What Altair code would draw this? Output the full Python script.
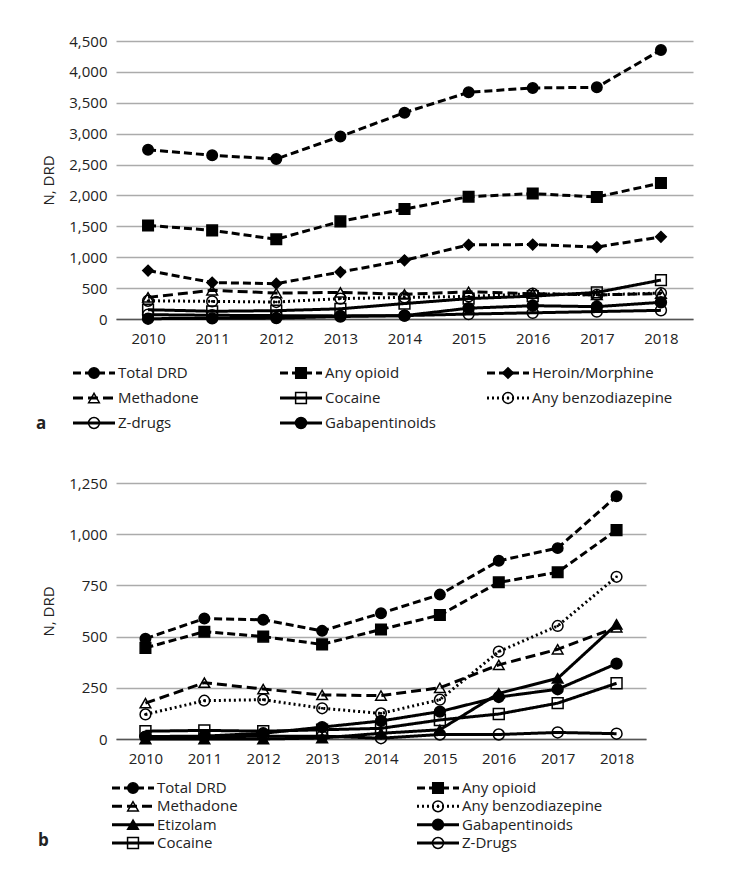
import altair as alt
import pandas as pd

years = [2010, 2011, 2012, 2013, 2014, 2015, 2016, 2017, 2018]

# ---------------- Panel a ----------------
a_series = ["Total DRD", "Any opioid", "Heroin/Morphine", "Methadone", "Cocaine",
            "Any benzodiazepine", "Z-drugs", "Gabapentinoids"]
a_total = [2740, 2650, 2590, 2955, 3340, 3670, 3740, 3750, 4355]
a_opioid = [1515, 1435, 1290, 1580, 1780, 1980, 2030, 1975, 2200]
a_heroin = [785, 590, 572, 760, 950, 1200, 1205, 1165, 1330]
a_methadone = [350, 465, 420, 430, 400, 440, 410, 390, 410]
a_cocaine = [150, 125, 135, 165, 250, 330, 370, 430, 630]
a_benzo = [295, 285, 275, 330, 350, 365, 410, 390, 420]
a_zdrugs = [70, 60, 55, 50, 55, 80, 100, 120, 140]
a_gaba = [5, 10, 15, 40, 55, 175, 215, 200, 270]
a_values = [a_total, a_opioid, a_heroin, a_methadone, a_cocaine, a_benzo, a_zdrugs, a_gaba]
a_yticks = [0, 500, 1000, 1500, 2000, 2500, 3000, 3500, 4000, 4500]
a_leg_col = [0, 1, 2, 0, 1, 2, 0, 1]
a_leg_row = [0, 0, 0, 1, 1, 1, 2, 2]

# ---------------- Panel b ----------------
b_series = ["Total DRD", "Any opioid", "Methadone", "Any benzodiazepine", "Etizolam",
            "Gabapentinoids", "Cocaine", "Z-Drugs"]
b_total = [490, 588, 582, 528, 614, 705, 870, 932, 1185]
b_opioid = [445, 524, 500, 462, 535, 605, 765, 814, 1020]
b_methadone = [175, 275, 244, 215, 212, 250, 362, 438, 545]
b_benzo = [120, 187, 192, 150, 125, 192, 427, 552, 792]
b_etizolam = [0, 0, 0, 5, 28, 45, 223, 296, 560]
b_gaba = [12, 14, 28, 58, 88, 134, 205, 243, 368]
b_cocaine = [38, 42, 38, 45, 52, 93, 122, 175, 272]
b_zdrugs = [10, 10, 14, 14, 4, 22, 22, 32, 26]
b_values = [b_total, b_opioid, b_methadone, b_benzo, b_etizolam, b_gaba, b_cocaine, b_zdrugs]
b_yticks = [0, 250, 500, 750, 1000, 1250]
b_leg_col = [0, 1, 0, 1, 0, 1, 0, 1]
b_leg_row = [0, 0, 1, 1, 2, 2, 3, 3]

# ---------------- Styles (per series name) ----------------
STYLE = {
    "Total DRD":          dict(dash=[8, 4], width=3.0, shape="circle", fill=1, size=110),
    "Any opioid":         dict(dash=[8, 4], width=3.0, shape="square", fill=1, size=120),
    "Heroin/Morphine":    dict(dash=[8, 4], width=3.0, shape="diamond", fill=1, size=70),
    "Methadone":          dict(dash=[10, 5], width=3.2, shape="triangle-up", fill=0, size=100),
    "Cocaine":            dict(dash=[1, 0], width=2.6, shape="square", fill=0, size=80),
    "Any benzodiazepine": dict(dash=[2, 3], width=2.6, shape="circle", fill=0, size=120),
    "Z-drugs":            dict(dash=[1, 0], width=2.6, shape="circle", fill=0, size=110),
    "Z-Drugs":            dict(dash=[1, 0], width=2.6, shape="circle", fill=0, size=120),
    "Gabapentinoids":     dict(dash=[1, 0], width=2.6, shape="circle", fill=1, size=120),
    "Etizolam":           dict(dash=[1, 0], width=2.6, shape="triangle-up", fill=1, size=110),
}
FONT = "Open Sans"
TXT = "#222222"


def long_df(series, values):
    rows = []
    for s, vals in zip(series, values):
        for y, v in zip(years, vals):
            rows.append({"year": y, "series": s, "value": v})
    return pd.DataFrame(rows)


def panel(series, values, leg_col, leg_row, yticks, ymax, width, height,
          leg_xrange, leg_yrange, letter, letter_x, letter_y):
    df = long_df(series, values)
    leg = pd.DataFrame({"series": series, "col": leg_col, "row": leg_row})
    sty = [STYLE[s] for s in series]
    dash_enc = alt.StrokeDash("series:N", scale=alt.Scale(domain=series, range=[d["dash"] for d in sty]), legend=None)
    sw_enc = alt.StrokeWidth("series:N", scale=alt.Scale(domain=series, range=[d["width"] for d in sty]), legend=None)
    shape_enc = alt.Shape("series:N", scale=alt.Scale(domain=series, range=[d["shape"] for d in sty]), legend=None)
    fill_enc = alt.Fill("series:N", scale=alt.Scale(domain=series,
                        range=["black" if d["fill"] else "transparent" for d in sty]), legend=None)
    size_enc = alt.Size("series:N", scale=alt.Scale(domain=series, range=[d["size"] for d in sty]), legend=None)

    x_enc = alt.X("year:O", scale=alt.Scale(padding=0.5),
                  axis=alt.Axis(title=None, labelAngle=0, labelPadding=12, ticks=False,
                                domainColor="#555555", domainWidth=1.6, grid=False))
    y_enc = alt.Y("value:Q", scale=alt.Scale(domain=[0, ymax], nice=False),
                  axis=alt.Axis(values=yticks, format=",.0f", title="N, DRD", grid=True,
                                gridColor="#ababab", gridWidth=1.5, domain=False, ticks=False,
                                labelPadding=9, titlePadding=12))
    base = alt.Chart(df).encode(x=x_enc, y=y_enc)
    lines = base.mark_line(color="black").encode(strokeDash=dash_enc, strokeWidth=sw_enc)
    pts = base.mark_point(filled=True, stroke="black", strokeWidth=1.5, opacity=1).encode(
        shape=shape_enc, fill=fill_enc, size=size_enc)
    dots = base.transform_filter(alt.datum.series == "Any benzodiazepine").mark_point(
        filled=True, color="black", size=7, opacity=1)
    main = alt.layer(lines, pts, dots)

    lx = alt.X("col:Q", scale=alt.Scale(domain=[0, max(leg_col)], range=leg_xrange, nice=False, zero=False), axis=None)
    ly = alt.Y("row:Q", scale=alt.Scale(domain=[0, max(leg_row)], range=leg_yrange, nice=False, zero=False), axis=None)
    lbase = alt.Chart(leg).encode(x=lx, y=ly)
    lrule = lbase.mark_rule(color="black", xOffset=-21, x2Offset=21).encode(
        x2="col:Q", strokeDash=dash_enc, strokeWidth=sw_enc)
    lpts = lbase.mark_point(filled=True, stroke="black", strokeWidth=1.5, opacity=1).encode(
        shape=shape_enc, fill=fill_enc, size=size_enc)
    ldots = lbase.transform_filter(alt.datum.series == "Any benzodiazepine").mark_point(
        filled=True, color="black", size=7, opacity=1)
    ltext = lbase.mark_text(align="left", baseline="middle", dx=24, fontSize=15, font=FONT, color=TXT).encode(
        text="series:N")
    legend = alt.layer(lrule, lpts, ldots, ltext)

    lab = alt.Chart(pd.DataFrame({"t": [letter]})).mark_text(
        align="left", baseline="middle", fontSize=17, fontWeight="bold", font=FONT, color=TXT
    ).encode(x=alt.value(letter_x), y=alt.value(letter_y), text="t:N")

    return alt.layer(main, legend, lab).resolve_scale(x="independent", y="independent").properties(
        width=width, height=height)


pa = panel(a_series, a_values, a_leg_col, a_leg_row, a_yticks, 4500, 577, 278,
           [-22, 392], [332, 382], "a", -80, 383)
pb = panel(b_series, b_values, b_leg_col, b_leg_row, b_yticks, 1250, 530, 256,
           [17, 322], [305, 360], "b", -78, 358)

chart = alt.vconcat(pa, pb, spacing=44).resolve_scale(
    strokeDash="independent", strokeWidth="independent", shape="independent",
    fill="independent", size="independent"
).properties(
    padding={"left": 28, "top": 26, "right": 5, "bottom": 5}
).configure(font=FONT).configure_view(stroke=None).configure_axis(
    labelFontSize=15, titleFontSize=15, labelColor=TXT, titleColor=TXT,
    titleFontWeight="normal", labelFont=FONT, titleFont=FONT
)

chart.save("out.html", embed_options={"renderer": "svg", "actions": False})
